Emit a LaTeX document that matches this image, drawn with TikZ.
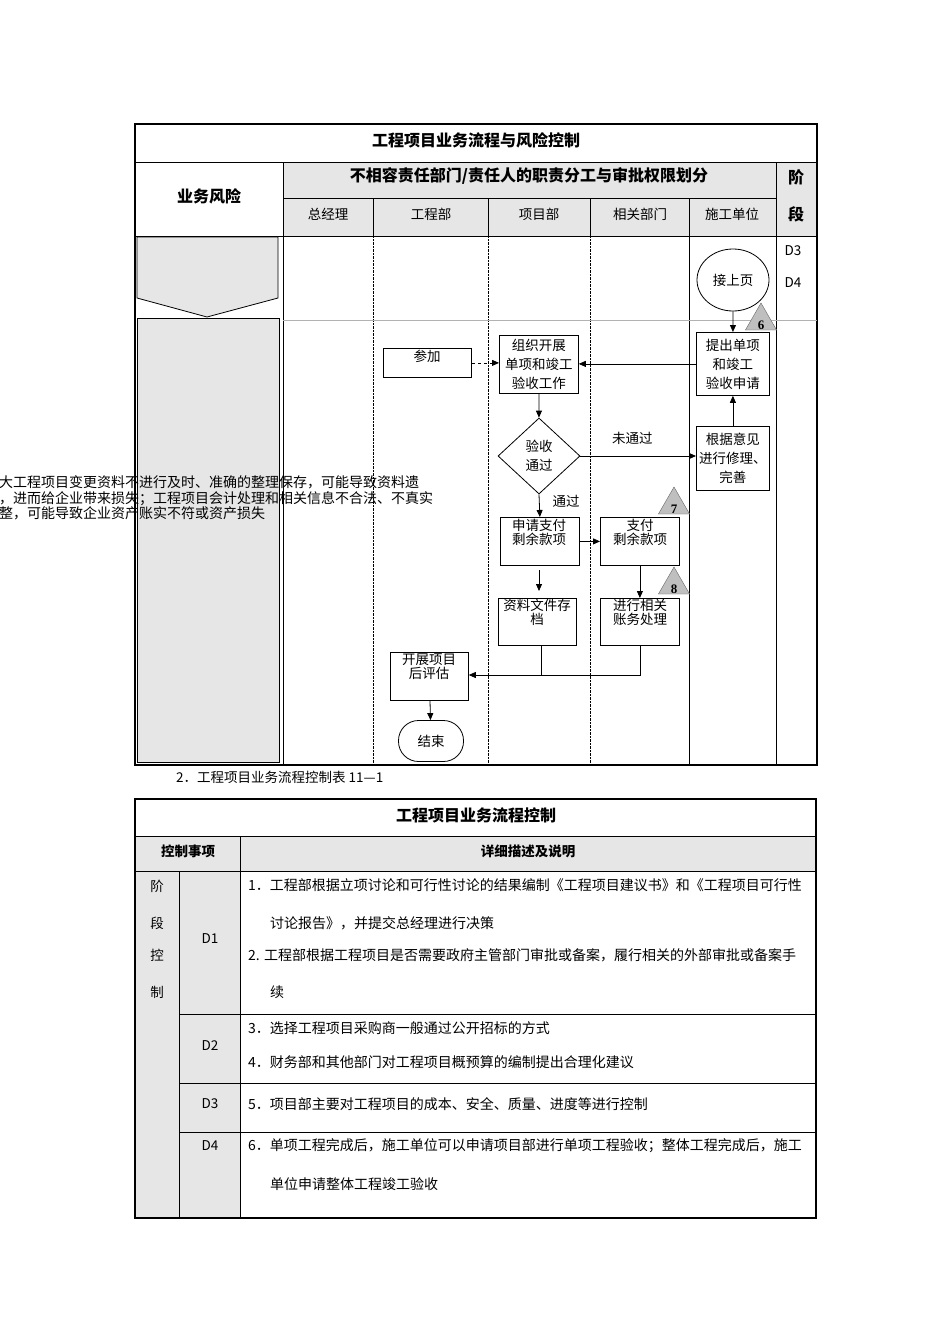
\documentclass[tikz,border=0pt]{standalone}
\usepackage{fontspec}
\setmainfont{Liberation Serif}
\newfontfamily\cjk{Noto Sans CJK SC}
\usetikzlibrary{shapes.geometric,arrows.meta}
\definecolor{lgray}{HTML}{E6E6E6}
\begin{document}
\begin{tikzpicture}[x=1pt,y=-1pt,
  every node/.style={font=\cjk\fontsize{13.5}{16}\selectfont,inner sep=1pt},
  box/.style={draw,thick,align=center,anchor=north west,minimum width=#1,text width=#1-2pt},
  arr/.style={-{Triangle[length=7pt,width=6pt]},thick},
  tri/.style={regular polygon,regular polygon sides=3,draw=gray!80!black,fill=gray!50,minimum size=36pt,inner sep=0pt},
  hd/.style={font=\cjk\bfseries\fontsize{16}{19}\selectfont},
  tl/.style={anchor=west,font=\cjk\fontsize{14}{16}\selectfont}]
\useasboundingbox (0,0) rectangle (950,1344);
% ===== Table 1 =====
\fill[lgray] (283,162) rectangle (817,236);
\draw[line width=1.2pt] (135,124) rectangle (817,765);
\draw[thick] (135,162) -- (817,162);
\draw[thick] (283,198) -- (776,198);
\draw[thick] (135,236) -- (817,236);
\draw[thick] (283,162) -- (283,765);
\draw[thick] (776,162) -- (776,236);
\draw (776,236) -- (776,765);
\foreach \x in {373,488,590}{\draw[thick] (\x,198)--(\x,236); \draw[densely dotted] (\x,236)--(\x,765);}
\draw[thick] (689,198)--(689,765);
\draw[gray!60] (283,320) -- (817,320);
\filldraw[fill=lgray,draw=black,thick] (137,237) -- (278,237) -- (278,298) -- (207,317) -- (137,298) -- cycle;
\filldraw[fill=lgray,draw=black,thick] (137,318) rectangle (279,762);
\node[hd] (t1) at (476,140) {工程项目业务流程与风险控制};
\node[hd] (h1) at (529,176) {不相容责任部门/责任人的职责分工与审批权限划分};
\node[hd] (h2) at (209,196) {业务风险};
\node[hd] (h3) at (796,177) {阶};
\node[hd] (h4) at (796,214) {段};
\node (c1) at (328,214) {总经理};
\node (c2) at (431,214) {工程部};
\node (c3) at (539,214) {项目部};
\node (c4) at (640,214) {相关部门};
\node (c5) at (732,214) {施工单位};
\node (d3) at (793,251) {D3};
\node (d4) at (793,283) {D4};
\node[anchor=west,align=left,font=\cjk\fontsize{14}{15.5}\selectfont] (risk) at (-2,498) {大工程项目变更资料不进行及时、准确的整理保存，可能导致资料遗\\，进而给企业带来损失；工程项目会计处理和相关信息不合法、不真实\\整，可能导致企业资产账实不符或资产损失};
% flow nodes
\node[draw,thick,ellipse,minimum width=72pt,minimum height=62pt] (start) at (733,280) {接上页};
\node[box=73pt,minimum height=63pt,font=\cjk\fontsize{13.5}{19}\selectfont] (apply) at (696,332) {提出单项\\和竣工\\验收申请};
\node[box=73pt,minimum height=64pt,font=\cjk\fontsize{13.5}{19}\selectfont] (fix) at (696,426) {根据意见\\进行修理、\\完善};
\node[box=79pt,minimum height=58pt,font=\cjk\fontsize{13.5}{19}\selectfont] (org) at (499,335) {组织开展\\单项和竣工\\验收工作};
\node[box=88pt,minimum height=29pt] (join) at (383,348) {};
\node (jointxt) at (427,356) {参加};
\node[draw,thick,diamond,minimum width=82pt,minimum height=76pt,inner sep=0pt,align=center,font=\cjk\fontsize{13.5}{19}\selectfont] (dec) at (539,456) {验收\\通过};
\node[box=79pt,minimum height=48pt] (req) at (500,517) {};
\node[align=center] (reqt) at (539,532) {申请支付\\[-2pt]剩余款项};
\node[box=79pt,minimum height=48pt] (pay) at (600,517) {};
\node[align=center] (payt) at (640,532) {支付\\[-2pt]剩余款项};
\node[box=78pt,minimum height=47pt] (arch) at (498,598) {};
\node[align=center] (archt) at (537,612) {资料文件存\\[-2pt]档};
\node[box=79pt,minimum height=47pt] (acc) at (600,598) {};
\node[align=center] (acct) at (640,612) {进行相关\\[-2pt]账务处理};
\node[box=78pt,minimum height=48pt] (eval) at (390,652) {};
\node[align=center] (evalt) at (429,667) {开展项目\\[-2pt]后评估};
\node[draw,thick,rounded corners=20pt,minimum width=65pt,minimum height=41pt] (end) at (431,741) {结束};
\node[tri] (t6) at (761,321) {};
\node[font=\bfseries\fontsize{13}{15}\selectfont] (n6) at (761,325) {6};
\node[tri] (t7) at (674,505) {};
\node[font=\bfseries\fontsize{13}{15}\selectfont] (n7) at (674,509) {7};
\node[tri] (t8) at (674,585) {};
\node[font=\bfseries\fontsize{13}{15}\selectfont] (n8) at (674,589) {8};
% connectors
\draw[arr] (start) -- (apply);
\draw[arr] (apply.west) -- (org.east |- apply.west);
\draw[arr,dashed] (join.east) -- (org.west |- join.east);
\draw[arr] (fix) -- (apply);
\draw[arr] (org) -- (dec);
\draw[arr] (dec.east) -- (fix.west |- dec.east) node[pos=0.45,above=10pt] (nt) {未通过};
\draw[arr] (dec.south) -- (req.north) node[pos=0.3,right=12pt] (pt) {通过};
\draw[arr] (req.east) -- (pay.west);
\coordinate (a1) at (539,570);
\coordinate (a2) at (539,591);
\draw[arr] (a1) -- (a2);
\draw[arr] (pay) -- (acc);
\coordinate (m1) at (541,675);
\coordinate (m2) at (640,675);
\draw[thick] (arch.south -| m1) -- (m1);
\draw[thick] (acc.south -| m2) -- (m2) -- (m1);
\draw[arr] (m1) -- (eval.east |- m1);
\draw[arr] (eval) -- (end);
\node[anchor=west] (cap) at (175,777) {2．工程项目业务流程控制表 11—1};
% ===== Table 2 =====
\fill[lgray] (135,836) rectangle (816,871);
\fill[lgray] (135,871) rectangle (240,1218);
\draw[line width=1.2pt] (135,799) rectangle (816,1218);
\draw[thick] (135,836) -- (816,836);
\draw[thick] (135,871) -- (816,871);
\draw[thick] (240,836) -- (240,1218);
\draw[thick] (179,871) -- (179,1218);
\foreach \y in {1014,1083,1132}{\draw[thick] (179,\y) -- (816,\y);}
\node[hd] (t2) at (476,815) {工程项目业务流程控制};
\node[font=\cjk\bfseries\fontsize{13.5}{15}\selectfont] (k1) at (188,851) {控制事项};
\node[font=\cjk\bfseries\fontsize{13.5}{15}\selectfont] (k2) at (528,851) {详细描述及说明};
\node (s1) at (157,886) {阶};
\node (s2) at (157,923) {段};
\node (s3) at (157,955) {控};
\node (s4) at (157,992) {制};
\node (D1) at (210,939) {D1};
\node (D2) at (210,1046) {D2};
\node (D3) at (210,1104) {D3};
\node (D4) at (210,1146) {D4};
\node[tl] (l1) at (247,885) {1．工程部根据立项讨论和可行性讨论的结果编制《工程项目建议书》和《工程项目可行性};
\node[tl] (l2) at (269,923) {讨论报告》，并提交总经理进行决策};
\node[tl] (l3) at (247,955) {2. 工程部根据工程项目是否需要政府主管部门审批或备案，履行相关的外部审批或备案手};
\node[tl] (l4) at (269,992) {续};
\node[tl] (l5) at (247,1028) {3．选择工程项目采购商一般通过公开招标的方式};
\node[tl] (l6) at (247,1062) {4．财务部和其他部门对工程项目概预算的编制提出合理化建议};
\node[tl] (l7) at (247,1104) {5．项目部主要对工程项目的成本、安全、质量、进度等进行控制};
\node[tl] (l8) at (247,1146) {6．单项工程完成后，施工单位可以申请项目部进行单项工程验收；整体工程完成后，施工};
\node[tl] (l9) at (269,1184) {单位申请整体工程竣工验收};
\end{tikzpicture}
\end{document}
